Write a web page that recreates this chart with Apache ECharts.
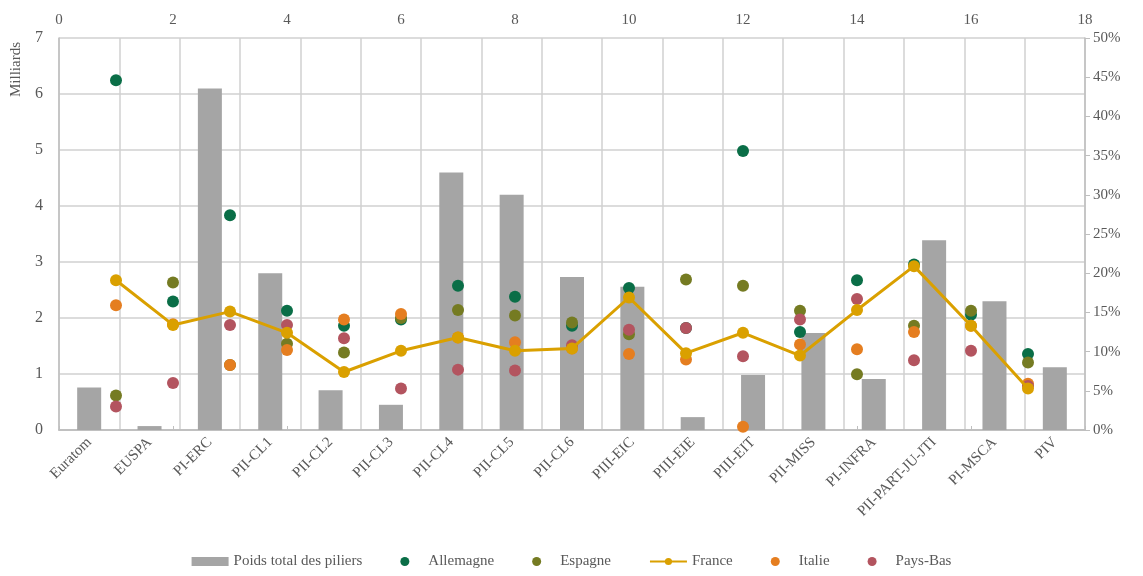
<!DOCTYPE html>
<html>
<head>
<meta charset="utf-8">
<script src="https://cdn.jsdelivr.net/npm/echarts@6/dist/echarts.min.js"></script>
<style>html,body{margin:0;padding:0;background:#fff}#c{width:1143px;height:576px}</style>
</head>
<body>
<div id="c"></div>
<script>
const categories = ['Euratom','EUSPA','PI-ERC','PII-CL1','PII-CL2','PII-CL3','PII-CL4','PII-CL5','PII-CL6','PIII-EIC','PIII-EIE','PIII-EIT','PII-MISS','PI-INFRA','PII-PART-JU-JTI','PI-MSCA','PIV'];
const poids = [0.76, 0.07, 6.1, 2.8, 0.71, 0.45, 4.6, 4.2, 2.73, 2.56, 0.23, 0.98, 1.73, 0.91, 3.39, 2.3, 1.12];
const positions = [1,2,3,4,5,6,7,8,9,10,11,12,13,14,15,16,17];
const allemagne = [44.6, 16.4, 27.4, 15.2, 13.3, 14.1, 18.4, 17.0, 13.3, 18.1, 13.0, 35.6, 12.5, 19.1, 21.1, 14.7, 9.7];
const espagne = [4.4, 18.8, 8.3, 11.0, 9.9, 14.3, 15.3, 14.6, 13.7, 12.2, 19.2, 18.4, 15.2, 7.1, 13.3, 15.2, 8.6];
const france = [19.1, 13.4, 15.1, 12.4, 7.4, 10.1, 11.8, 10.1, 10.4, 16.9, 9.8, 12.4, 9.5, 15.3, 20.9, 13.3, 5.3];
const italie = [15.9, 13.5, 8.3, 10.2, 14.1, 14.8, 11.8, 11.2, 10.4, 9.7, 9.0, 0.4, 10.9, 10.3, 12.5, 13.3, 5.9];
const paysBas = [3.0, 6.0, 13.4, 13.4, 11.7, 5.3, 7.7, 7.6, 10.8, 12.8, 13.0, 9.4, 14.1, 16.7, 8.9, 10.1, 5.6];

const FONT = '"Liberation Serif", "DejaVu Serif", serif';
const TXT = '#595959';
const GRIDC = '#D0D0D0';
const pair = arr => positions.map((x, i) => [x, arr[i]]);

const chart = echarts.init(document.getElementById('c'));
const scatter = (name, arr, color) => ({
  name, type: 'scatter', xAxisIndex: 1, yAxisIndex: 1,
  data: pair(arr), symbolSize: 12,
  itemStyle: { color: color, opacity: 1 }
});
chart.setOption({
  animation: false,
  textStyle: { fontFamily: FONT },
  grid: { left: 59, right: 58, top: 38, bottom: 146, containLabel: false },
  graphic: [{
    type: 'text', left: 9, top: 42, rotation: Math.PI / 2,
    style: { text: 'Milliards', font: '15px ' + FONT, fill: TXT }
  }],
  legend: {
    bottom: 2, left: 'center', itemGap: 38, itemWidth: 37, itemHeight: 9,
    textStyle: { fontFamily: FONT, fontSize: 15, color: TXT },
    data: [
      { name: 'Poids total des piliers', icon: 'rect' },
      { name: 'Allemagne', icon: 'circle' },
      { name: 'Espagne', icon: 'circle' },
      'France',
      { name: 'Italie', icon: 'circle' },
      { name: 'Pays-Bas', icon: 'circle' }
    ]
  },
  xAxis: [{
    type: 'category', data: categories, position: 'bottom',
    axisLine: { lineStyle: { color: '#BFBFBF', width: 1.5 } },
    axisTick: { show: false },
    axisLabel: { rotate: 45, interval: 0, color: TXT, fontSize: 15, fontFamily: FONT, margin: 10 },
    splitLine: { show: true, interval: 0, lineStyle: { color: GRIDC, width: 1.5 } }
  }, {
    type: 'value', position: 'top', min: 0, max: 18, interval: 2,
    axisLine: { show: true, lineStyle: { color: '#BFBFBF', width: 1.5 } },
    axisTick: { show: true, length: 4, lineStyle: { color: '#BFBFBF' } },
    axisLabel: { color: TXT, fontSize: 15, fontFamily: FONT, margin: 10 },
    splitLine: { show: false }
  }],
  yAxis: [{
    type: 'value', min: 0, max: 7, interval: 1, position: 'left',
    axisLine: { show: true, lineStyle: { color: '#BFBFBF', width: 1.5 } },
    axisTick: { show: false },
    axisLabel: { color: TXT, fontSize: 16, fontFamily: FONT, margin: 16 },
    splitLine: { show: true, lineStyle: { color: GRIDC, width: 1.5 } }
  }, {
    type: 'value', min: 0, max: 50, interval: 5, position: 'right',
    axisLine: { show: true, lineStyle: { color: '#BFBFBF', width: 1.5 } },
    axisTick: { show: true, length: 5, lineStyle: { color: '#BFBFBF' } },
    axisLabel: { color: TXT, fontSize: 15, fontFamily: FONT, margin: 8, formatter: '{value}%' },
    splitLine: { show: false }
  }],
  series: [
    { name: 'Poids total des piliers', type: 'bar', xAxisIndex: 0, yAxisIndex: 0,
      data: poids, barWidth: 24, itemStyle: { color: '#A5A5A5' } },
    scatter('Allemagne', allemagne, '#0A6E47'),
    scatter('Espagne', espagne, '#757B22'),
    { name: 'France', type: 'line', xAxisIndex: 1, yAxisIndex: 1, data: pair(france),
      symbol: 'circle', symbolSize: 12, showAllSymbol: true,
      lineStyle: { color: '#DAA000', width: 3 }, itemStyle: { color: '#DAA000' } },
    scatter('Italie', italie, '#E57E20'),
    scatter('Pays-Bas', paysBas, '#B3545F')
  ]
});
</script>
</body>
</html>
